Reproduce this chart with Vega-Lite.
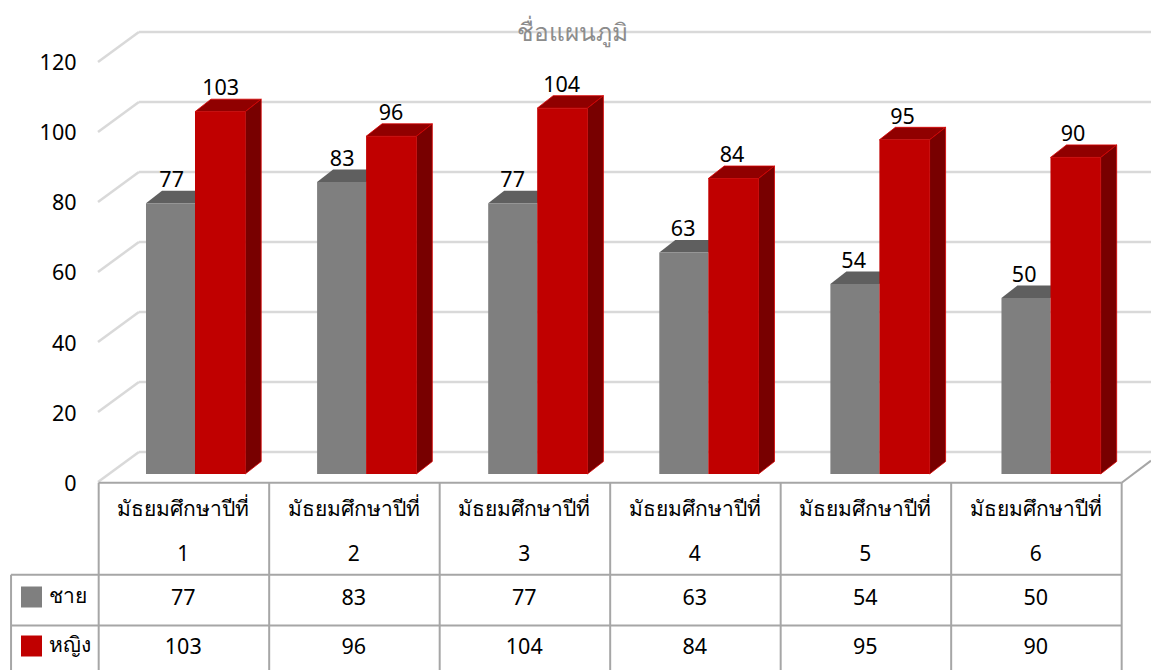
{
"$schema":"https://vega.github.io/schema/vega-lite/v6.json",
"width":1151,"height":670,"autosize":{"type":"none"},"padding":0,"background":"white",
"title":{"text":"ชื่อแผนภูมิ","orient":"top","anchor":"middle","frame":"group","offset":-46,"dx":-3,"fontSize":24.5,"font":"Noto Sans","fontWeight":"normal","color":"#8c8c8c"},
"config":{"view":{"stroke":null},"text":{"font":"Noto Sans","fontSize":21.5,"color":"#000000"}},
"data":{"values":[
{"grade":1,"level":"มัธยมศึกษาปีที่ 1","sex":"ชาย","value":77},{"grade":1,"level":"มัธยมศึกษาปีที่ 1","sex":"หญิง","value":103},
{"grade":2,"level":"มัธยมศึกษาปีที่ 2","sex":"ชาย","value":83},{"grade":2,"level":"มัธยมศึกษาปีที่ 2","sex":"หญิง","value":96},
{"grade":3,"level":"มัธยมศึกษาปีที่ 3","sex":"ชาย","value":77},{"grade":3,"level":"มัธยมศึกษาปีที่ 3","sex":"หญิง","value":104},
{"grade":4,"level":"มัธยมศึกษาปีที่ 4","sex":"ชาย","value":63},{"grade":4,"level":"มัธยมศึกษาปีที่ 4","sex":"หญิง","value":84},
{"grade":5,"level":"มัธยมศึกษาปีที่ 5","sex":"ชาย","value":54},{"grade":5,"level":"มัธยมศึกษาปีที่ 5","sex":"หญิง","value":95},
{"grade":6,"level":"มัธยมศึกษาปีที่ 6","sex":"ชาย","value":50},{"grade":6,"level":"มัธยมศึกษาปีที่ 6","sex":"หญิง","value":90}
]},
"transform":[
{"calculate":"(datum.grade-1)*1.0035+0.2815+(datum.sex==='หญิง'?0.2874:0)","as":"xl"},
{"calculate":"datum.xl+(datum.sex==='หญิง'?0.2945:0.2874)","as":"xr"},
{"calculate":"datum.value*1.005+2.29","as":"top"}
],
"encoding":{
"x":{"field":"px","type":"quantitative","axis":null,"scale":{"domain":[-0.5748,6.176],"nice":false,"zero":false}},
"y":{"field":"py","type":"quantitative","scale":{"domain":[-53.714,137.714],"nice":false,"zero":false},
"axis":{"title":null,"values":[0,20,40,60,80,100,120],"offset":-80,"domain":false,"ticks":false,"grid":false,"labelPadding":4,"labelOffset":2,"labelFontSize":21.5,"labelFont":"Noto Sans","labelColor":"#000000"}}
},
"layer":[
{"data":{"values":[{"tick":0},{"tick":20},{"tick":40},{"tick":60},{"tick":80},{"tick":100},{"tick":120}]},
"transform":[{"calculate":"0.24","as":"px"},{"calculate":"6.176","as":"ex"},{"calculate":"datum.tick+8.57","as":"py"}],
"mark":{"type":"rule","color":"#d9d9d9","strokeWidth":2.5},
"encoding":{"x2":{"field":"ex"}}},
{"data":{"values":[{"tick":0},{"tick":20},{"tick":40},{"tick":60},{"tick":80},{"tick":100},{"tick":120}]},
"transform":[{"calculate":"0","as":"px"},{"calculate":"0.24","as":"ex"},{"calculate":"datum.tick","as":"py"},{"calculate":"datum.tick+8.57","as":"ey"}],
"mark":{"type":"rule","color":"#d9d9d9","strokeWidth":2.5},
"encoding":{"x2":{"field":"ex"},"y2":{"field":"ey"}}},
{"data":{"values":[{"edge":"right"}]},
"transform":[{"calculate":"6.004","as":"px"},{"calculate":"6.176","as":"ex"},{"calculate":"-0.2","as":"py"},{"calculate":"6.1","as":"ey"}],
"mark":{"type":"rule","color":"#a6a6a6","strokeWidth":2},
"encoding":{"x2":{"field":"ex"},"y2":{"field":"ey"}}},
{"transform":[{"filter":"datum.sex==='ชาย'"},{"calculate":"[0,1]","as":"t"},{"flatten":["t"]},{"calculate":"datum.xl+datum.t*0.0938","as":"px"},{"calculate":"datum.xr+datum.t*0.0938","as":"ex"},{"calculate":"datum.top+datum.t*3.57","as":"py"}],
"mark":{"type":"area","orient":"horizontal","color":"#5f5f5f"},
"encoding":{"x2":{"field":"ex"},"detail":{"field":"grade"}}},
{"transform":[{"filter":"datum.sex==='ชาย'"},{"calculate":"datum.xl","as":"px"},{"calculate":"datum.top","as":"py"},{"calculate":"2.29","as":"by"}],
"mark":{"type":"rect","color":"#7f7f7f"},
"encoding":{"x2":{"field":"xr"},"y2":{"field":"by"}}},
{"transform":[{"filter":"datum.sex==='หญิง'"},{"calculate":"[0,1]","as":"t"},{"flatten":["t"]},{"calculate":"datum.xl+datum.t*0.0938","as":"px"},{"calculate":"datum.xr+datum.t*0.0938","as":"ex"},{"calculate":"datum.top+datum.t*3.57","as":"py"}],
"mark":{"type":"area","orient":"horizontal","color":"#900000","stroke":"#d80000","strokeWidth":0.8},
"encoding":{"x2":{"field":"ex"},"detail":{"field":"grade"}}},
{"transform":[{"filter":"datum.sex==='หญิง'"},{"calculate":"[0,1]","as":"t"},{"flatten":["t"]},{"calculate":"datum.xr+datum.t*0.0938","as":"px"},{"calculate":"datum.top+datum.t*3.57","as":"py"},{"calculate":"2.29+datum.t*3.57","as":"by"}],
"mark":{"type":"area","orient":"vertical","color":"#780000","stroke":"#d80000","strokeWidth":0.8},
"encoding":{"y2":{"field":"by"},"detail":{"field":"grade"}}},
{"transform":[{"filter":"datum.sex==='หญิง'"},{"calculate":"datum.xl","as":"px"},{"calculate":"datum.top","as":"py"},{"calculate":"2.29","as":"by"}],
"mark":{"type":"rect","color":"#c00000"},
"encoding":{"x2":{"field":"xr"},"y2":{"field":"by"}}},
{"transform":[{"calculate":"datum.grade-1+(datum.sex==='หญิง'?0.719:0.432)","as":"px"},{"calculate":"datum.top+3.57+2.8","as":"py"}],
"mark":{"type":"text","baseline":"middle","align":"center"},
"encoding":{"text":{"field":"value","type":"quantitative"}}},
{"data":{"values":[{"col":0},{"col":1},{"col":2},{"col":3},{"col":4},{"col":5},{"col":6}]},
"transform":[{"calculate":"datum.col+0.004","as":"px"},{"calculate":"-0.2","as":"py"},{"calculate":"-53.714","as":"ey"}],
"mark":{"type":"rule","color":"#a6a6a6","strokeWidth":2},
"encoding":{"y2":{"field":"ey"}}},
{"data":{"values":[{"row":"head"},{"row":"ชาย"},{"row":"หญิง"}]},
"transform":[{"calculate":"datum.row==='head'?0.004:-0.51","as":"px"},{"calculate":"6.004","as":"ex"},{"calculate":"datum.row==='head'?-0.2:datum.row==='ชาย'?-26.5:-41","as":"py"}],
"mark":{"type":"rule","color":"#a6a6a6","strokeWidth":2},
"encoding":{"x2":{"field":"ex"}}},
{"data":{"values":[{"edge":"left"}]},
"transform":[{"calculate":"-0.51","as":"px"},{"calculate":"-26.5","as":"py"},{"calculate":"-53.714","as":"ey"}],
"mark":{"type":"rule","color":"#a6a6a6","strokeWidth":2},
"encoding":{"y2":{"field":"ey"}}},
{"transform":[{"filter":"datum.sex==='ชาย'"},{"calculate":"datum.grade-0.5","as":"px"},{"calculate":"-8","as":"py"}],
"mark":{"type":"text","align":"center","baseline":"middle","lineBreak":" ","lineHeight":45,"fontSize":21},
"encoding":{"text":{"field":"level","type":"nominal"}}},
{"transform":[{"calculate":"datum.grade-0.5","as":"px"},{"calculate":"datum.sex==='ชาย'?-33.5:-47.5","as":"py"}],
"mark":{"type":"text","align":"center","baseline":"middle"},
"encoding":{"text":{"field":"value","type":"quantitative"}}},
{"transform":[{"filter":"datum.grade===1"},{"calculate":"-0.39","as":"px"},{"calculate":"datum.sex==='ชาย'?-32.857:-46.857","as":"py"}],
"mark":{"type":"point","shape":"square","filled":true,"size":441,"opacity":1},
"encoding":{"color":{"field":"sex","type":"nominal","legend":null,"scale":{"domain":["ชาย","หญิง"],"range":["#7f7f7f","#c00000"]}}}},
{"transform":[{"filter":"datum.grade===1"},{"calculate":"-0.2874","as":"px"},{"calculate":"datum.sex==='ชาย'?-32.857:-46.857","as":"py"}],
"mark":{"type":"text","align":"left","baseline":"middle","fontSize":21},
"encoding":{"text":{"field":"sex","type":"nominal"}}}
]
}
